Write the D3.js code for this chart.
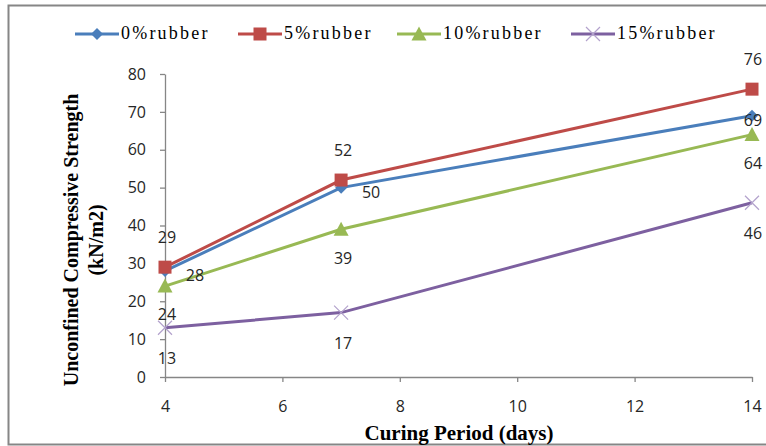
<!DOCTYPE html>
<html>
<head>
<meta charset="utf-8">
<script src="https://cdn.jsdelivr.net/npm/d3@7"></script>
<style>
  html, body { margin: 0; padding: 0; background: #fff; }
  svg { display: block; }
</style>
</head>
<body>
<svg id="chart" width="766" height="446"></svg>
<script>
// Curing period (days) on the x axis
const days = [4, 7, 14];
// Unconfined compressive strength per rubber content
const seriesNames = ["0%rubber", "5%rubber", "10%rubber", "15%rubber"];
const rubber0 = [28, 50, 69];
const rubber5 = [29, 52, 76];
const rubber10 = [24, 39, 64];
const rubber15 = [13, 17, 46];
const xTicks = [4, 6, 8, 10, 12, 14];
const yTicks = [0, 10, 20, 30, 40, 50, 60, 70, 80];

const colors = ["#4a7ebb", "#be4b48", "#98b954", "#7d60a0"];
const markers = ["diamond", "square", "triangle", "cross"];
// label placement per series: [dx, dy] relative to the point
const labelOffsets = [[30, 6], [2, -28], [2, 30], [2, 32]];

const series = seriesNames.map((name, i) => ({
  name,
  values: [rubber0, rubber5, rubber10, rubber15][i].map((v, j) => ({ x: days[j], y: v })),
  color: colors[i],
  marker: markers[i],
  offset: labelOffsets[i]
}));

const svg = d3.select("#chart");

// outer frame
svg.append("rect")
  .attr("x", 8.5).attr("y", 5.5)
  .attr("width", 770).attr("height", 439)
  .attr("fill", "none").attr("stroke", "#868686").attr("stroke-width", 2);

const x = d3.scaleLinear().domain([4, 14]).range([165, 752]);
const y = d3.scaleLinear().domain([0, 80]).range([377, 74]);

const axisColor = "#868686";
const tickFont = "'Open Sans', 'Liberation Sans', sans-serif";

// y axis
const yAxis = svg.append("g")
  .attr("transform", `translate(${x.range()[0]},0)`)
  .call(d3.axisLeft(y).tickValues(yTicks).tickSize(5).tickPadding(14).tickSizeOuter(0));
// x axis
const xAxis = svg.append("g")
  .attr("transform", `translate(0,${y(0)})`)
  .call(d3.axisBottom(x).tickValues(xTicks).tickSize(5).tickPadding(19).tickSizeOuter(0));

[yAxis, xAxis].forEach(g => {
  g.select(".domain").attr("stroke", axisColor).attr("stroke-width", 1.3);
  g.selectAll(".tick line").attr("stroke", axisColor).attr("stroke-width", 1.3);
  g.selectAll(".tick text")
    .attr("fill", "#262626")
    .style("font-family", tickFont)
    .style("font-size", "16px");
});

// series lines
const line = d3.line().x(d => x(d.x)).y(d => y(d.y));

function drawMarker(g, type, color, cx, cy) {
  if (type === "diamond") {
    g.append("path")
      .attr("d", `M${cx},${cy - 6}L${cx + 6},${cy}L${cx},${cy + 6}L${cx - 6},${cy}Z`)
      .attr("fill", color);
  } else if (type === "square") {
    g.append("rect")
      .attr("x", cx - 6.5).attr("y", cy - 6.5)
      .attr("width", 13).attr("height", 13)
      .attr("fill", color);
  } else if (type === "triangle") {
    g.append("path")
      .attr("d", `M${cx},${cy - 7.5}L${cx + 7.5},${cy + 6.5}L${cx - 7.5},${cy + 6.5}Z`)
      .attr("fill", color);
  } else {
    g.append("path")
      .attr("d", `M${cx - 7},${cy - 7}L${cx + 7},${cy + 7}M${cx - 7},${cy + 7}L${cx + 7},${cy - 7}`)
      .attr("stroke", "#b3a2cc").attr("stroke-width", 1.2).attr("fill", "none");
  }
}

const plot = svg.append("g");
series.forEach(s => {
  plot.append("path")
    .datum(s.values)
    .attr("d", line)
    .attr("fill", "none")
    .attr("stroke", s.color)
    .attr("stroke-width", 3);
});
series.forEach(s => {
  const g = plot.append("g");
  s.values.forEach(d => drawMarker(g, s.marker, s.color, x(d.x), y(d.y)));
});

// data labels (kept inside the frame at the right edge)
series.forEach(s => {
  plot.append("g").selectAll("text")
    .data(s.values)
    .join("text")
    .attr("x", d => Math.min(x(d.x) + s.offset[0], 753))
    .attr("y", d => y(d.y) + s.offset[1])
    .attr("text-anchor", "middle")
    .attr("dominant-baseline", "middle")
    .attr("fill", "#262626")
    .style("font-family", tickFont)
    .style("font-size", "16px")
    .text(d => d.y);
});

// legend
const legendX = [75, 238, 397, 571];
const legend = svg.append("g");
series.forEach((s, i) => {
  const g = legend.append("g").attr("transform", `translate(${legendX[i]},34)`);
  g.append("line")
    .attr("x1", 0).attr("x2", 44).attr("y1", 0).attr("y2", 0)
    .attr("stroke", s.color).attr("stroke-width", 3);
  drawMarker(g, s.marker, s.color, 22, 0);
  g.append("text")
    .attr("x", 46).attr("y", 1)
    .attr("dominant-baseline", "middle")
    .attr("fill", "#000")
    .style("font-family", "'Liberation Serif', 'Times New Roman', serif")
    .style("font-size", "18px")
    .style("letter-spacing", "2.2px")
    .text(s.name);
});

// axis titles
const titleFont = "'Liberation Serif', 'Times New Roman', serif";
svg.append("text")
  .attr("transform", "translate(459,440)")
  .attr("text-anchor", "middle")
  .style("font-family", titleFont)
  .style("font-weight", "bold")
  .style("font-size", "21px")
  .text("Curing Period (days)");

const yTitle = svg.append("text")
  .attr("transform", "translate(78,240) rotate(-90)")
  .attr("text-anchor", "middle")
  .style("font-family", titleFont)
  .style("font-weight", "bold")
  .style("font-size", "20px");
yTitle.append("tspan").attr("x", 0).attr("dy", 0).text("Unconfined Compressive Strength");
yTitle.append("tspan").attr("x", 0).attr("dy", 25).text("(kN/m2)");
</script>
</body>
</html>
